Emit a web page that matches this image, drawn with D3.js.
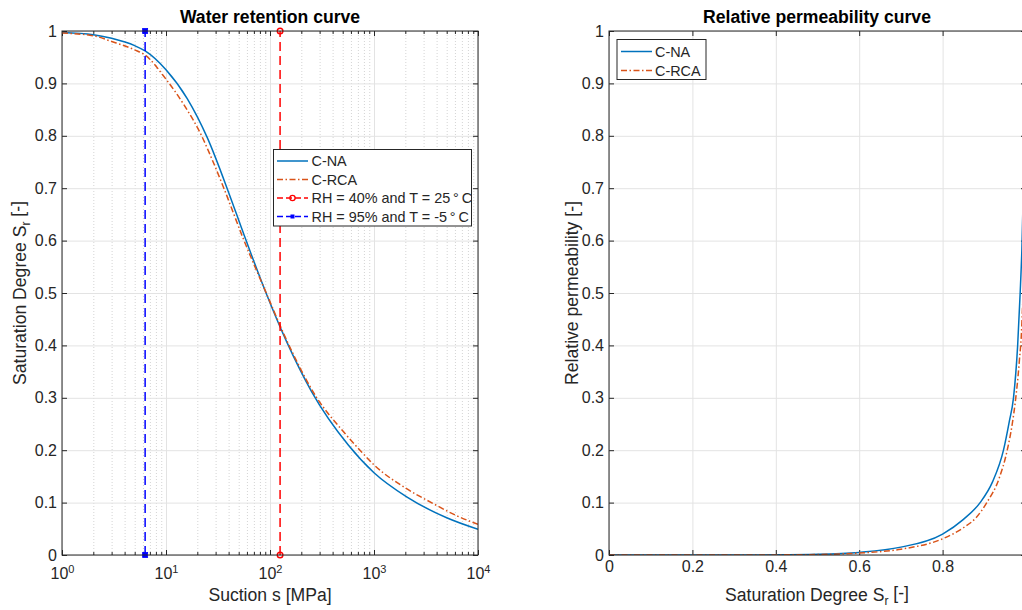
<!DOCTYPE html>
<html>
<head>
<meta charset="utf-8">
<script src="https://cdn.jsdelivr.net/npm/d3@7"></script>
<style>
  body { margin: 0; background: #fff; }
  text { font-family: "Liberation Sans", Arial, sans-serif; fill: #262626; }
</style>
</head>
<body>
<div id="chart"></div>
<script>
// water retention data (suction in MPa, saturation degree)
var suctionNA = [1, 2, 3, 5, 6.3, 10, 16, 25, 40, 56, 92, 143, 251, 566, 1000, 2061, 5000, 10000];
var satNA = [0.997, 0.993, 0.986, 0.972, 0.962, 0.926, 0.871, 0.796, 0.692, 0.612, 0.499, 0.409, 0.312, 0.21, 0.157, 0.111, 0.071, 0.049];
var suctionRCA = [1, 2, 3, 5, 6.3, 10, 15, 22, 28, 36, 55, 92, 146, 282, 500, 733, 1000, 2000, 3720, 6000, 10000];
var satRCA = [0.996, 0.991, 0.980, 0.964, 0.954, 0.908, 0.858, 0.80, 0.753, 0.70, 0.605, 0.50, 0.408, 0.30, 0.237, 0.20, 0.172, 0.128, 0.098, 0.0765, 0.0585];

// suction for the two climate conditions
var sRH40 = 125;
var sRH95 = 6.3;

// relative permeability data (saturation degree, kr)
var srNA = [0, 0.1, 0.2, 0.3, 0.4, 0.5, 0.6, 0.7, 0.8, 0.85, 0.89, 0.92, 0.946, 0.96, 0.97, 0.98, 0.986, 0.99, 0.995, 1];
var krNA = [0, 0, 0.00001, 0.00005, 0.0003, 0.0013, 0.005, 0.015, 0.04, 0.068, 0.1, 0.14, 0.2, 0.255, 0.3, 0.4, 0.5, 0.58, 0.74, 1];
var srRCA = [0, 0.1, 0.2, 0.3, 0.4, 0.5, 0.6, 0.7, 0.8, 0.85, 0.88, 0.906, 0.935, 0.955, 0.967, 0.974, 0.984, 0.99, 0.995, 1];
var krRCA = [0, 0, 0, 0.00003, 0.0002, 0.0009, 0.0038, 0.011, 0.031, 0.052, 0.071, 0.1, 0.145, 0.2, 0.25, 0.29, 0.37, 0.44, 0.58, 1];

// ticks
var decades = [1, 10, 100, 1000, 10000];
var decadeExp = ["0", "1", "2", "3", "4"];
var yTicks = [0, 0.1, 0.2, 0.3, 0.4, 0.5, 0.6, 0.7, 0.8, 0.9, 1];
var yTickLabels = ["0", "0.1", "0.2", "0.3", "0.4", "0.5", "0.6", "0.7", "0.8", "0.9", "1"];
var xTicksR = [0, 0.2, 0.4, 0.6, 0.8, 1];
var xTickLabelsR = ["0", "0.2", "0.4", "0.6", "0.8", ""];

var blue = "#0072BD", orange = "#D95319";
var axisColor = "#262626", gridColor = "#e3e3e3";

//general setup
var width = 1022, height = 610;
var plotTop = 31, plotBottom = 555;

var svg = d3.select("#chart").append("svg")
    .attr("width", width)
    .attr("height", height);

var minor = [];
decades.slice(0, 4).forEach(function (d) {
    for (var k = 2; k < 10; k++) minor.push(d * k);
});

function styleAxis(g) {
    g.select(".domain").remove();
    g.selectAll(".tick line").attr("stroke", axisColor);
}

function gridX(scale, values, dotted) {
    var g = svg.append("g")
        .attr("transform", "translate(0," + plotBottom + ")")
        .call(d3.axisBottom(scale).tickValues(values).tickSize(-(plotBottom - plotTop)).tickFormat(""));
    g.select(".domain").remove();
    g.selectAll(".tick line")
        .attr("stroke", dotted ? "#d4d4d4" : gridColor)
        .attr("stroke-dasharray", dotted ? "1,2" : null);
}

function gridY(scale, x0, x1) {
    var g = svg.append("g")
        .attr("transform", "translate(" + x0 + ",0)")
        .call(d3.axisLeft(scale).tickValues(yTicks).tickSize(-(x1 - x0)).tickFormat(""));
    g.select(".domain").remove();
    g.selectAll(".tick line").attr("stroke", gridColor);
}

function frame(x0, x1) {
    svg.append("rect")
        .attr("x", x0).attr("y", plotTop)
        .attr("width", x1 - x0).attr("height", plotBottom - plotTop)
        .attr("fill", "none")
        .attr("stroke", axisColor)
        .attr("stroke-width", 1);
}

function yAxes(scale, x0, x1) {
    var g = svg.append("g")
        .attr("transform", "translate(" + x0 + ",0)")
        .call(d3.axisLeft(scale).tickValues(yTicks).tickSize(-5).tickPadding(5)
            .tickFormat(function (d, i) { return yTickLabels[i]; }));
    styleAxis(g);
    g.selectAll("text").attr("font-size", "16px").attr("font-family", null).attr("fill", axisColor);
    var r = svg.append("g")
        .attr("transform", "translate(" + x1 + ",0)")
        .call(d3.axisRight(scale).tickValues(yTicks).tickSize(-5).tickFormat(""));
    styleAxis(r);
}

/* ---------- left panel: water retention curve ---------- */
var xL = d3.scaleLog().domain([1, 10000]).range([62, 478]);
var yL = d3.scaleLinear().domain([0, 1]).range([plotBottom, plotTop]);

gridX(xL, minor, true);
gridX(xL, decades, false);
gridY(yL, 62, 478);

// bottom axis with power labels
var gxL = svg.append("g")
    .attr("transform", "translate(0," + plotBottom + ")")
    .call(d3.axisBottom(xL).tickValues(decades).tickSize(-5).tickPadding(13));
styleAxis(gxL);
gxL.selectAll(".tick text")
    .attr("font-size", "16px").attr("font-family", null).attr("fill", axisColor)
    .text(null)
    .each(function (d, i) {
        var t = d3.select(this);
        t.append("tspan").text("10");
        t.append("tspan").attr("dy", "-0.55em").attr("font-size", "11px").text(decadeExp[i]);
    });
styleAxis(svg.append("g")
    .attr("transform", "translate(0," + plotBottom + ")")
    .call(d3.axisBottom(xL).tickValues(minor).tickSize(-3).tickFormat("")));
styleAxis(svg.append("g")
    .attr("transform", "translate(0," + plotTop + ")")
    .call(d3.axisTop(xL).tickValues(decades).tickSize(-5).tickFormat("")));
styleAxis(svg.append("g")
    .attr("transform", "translate(0," + plotTop + ")")
    .call(d3.axisTop(xL).tickValues(minor).tickSize(-3).tickFormat("")));
yAxes(yL, 62, 478);

svg.append("defs").append("clipPath").attr("id", "clipL")
    .append("rect").attr("x", 62).attr("y", plotTop - 6).attr("width", 416).attr("height", plotBottom - plotTop + 12);

var lineL = d3.line()
    .x(function (d) { return xL(d[0]); })
    .y(function (d) { return yL(d[1]); })
    .curve(d3.curveMonotoneX);

var plotL = svg.append("g").attr("clip-path", "url(#clipL)");

plotL.append("path")
    .attr("d", lineL(d3.zip(suctionNA, satNA)))
    .attr("stroke", blue).attr("stroke-width", 1.5).attr("fill", "none");
plotL.append("path")
    .attr("d", lineL(d3.zip(suctionRCA, satRCA)))
    .attr("stroke", orange).attr("stroke-width", 1.5).attr("fill", "none")
    .attr("stroke-dasharray", "6,2.5,1.5,2.5");

// RH 40% (red) and RH 95% (blue) verticals
plotL.append("path")
    .attr("d", d3.line()([[xL(sRH40), yL(0)], [xL(sRH40), yL(1)]]))
    .attr("stroke", "#ff0000").attr("stroke-width", 1.5).attr("fill", "none")
    .attr("stroke-dasharray", "9,5");
plotL.selectAll(".mk40").data([0, 1]).enter().append("circle")
    .attr("cx", xL(sRH40)).attr("cy", function (d) { return yL(d); })
    .attr("r", 2.8).attr("fill", "none").attr("stroke", "#ff0000").attr("stroke-width", 1.4);
plotL.append("path")
    .attr("d", d3.line()([[xL(sRH95), yL(0)], [xL(sRH95), yL(1)]]))
    .attr("stroke", "#0000ff").attr("stroke-width", 1.5).attr("fill", "none")
    .attr("stroke-dasharray", "9,5");
plotL.selectAll(".mk95").data([0, 1]).enter().append("rect")
    .attr("x", xL(sRH95) - 2.5).attr("y", function (d) { return yL(d) - 2.5; })
    .attr("width", 5).attr("height", 5)
    .attr("fill", "#0000ff").attr("stroke", "#0000ff").attr("stroke-width", 0.8);

frame(62, 478);

// legend
var legL = svg.append("g");
legL.append("rect").attr("x", 273.5).attr("y", 149.5).attr("width", 198).attr("height", 76.5)
    .attr("fill", "#fff").attr("stroke", axisColor).attr("stroke-width", 1);
var legItems = [
    { label: "C-NA", color: blue, dash: null },
    { label: "C-RCA", color: orange, dash: "6,2.5,1.5,2.5" },
    { label: "RH = 40% and T = 25\u2009\u00B0\u2009C", color: "#ff0000", dash: "6,3", mark: "o" },
    { label: "RH = 95% and T = -5\u2009\u00B0\u2009C", color: "#0000ff", dash: "6,3", mark: "s" }
];
legItems.forEach(function (d, i) {
    var y = 161 + i * 18.5;
    legL.append("line").attr("x1", 277).attr("x2", 308).attr("y1", y).attr("y2", y)
        .attr("stroke", d.color).attr("stroke-width", 1.5).attr("stroke-dasharray", d.dash);
    if (d.mark === "o") {
        legL.append("circle").attr("cx", 292.5).attr("cy", y).attr("r", 2.6)
            .attr("fill", "none").attr("stroke", d.color).attr("stroke-width", 1.3);
    } else if (d.mark === "s") {
        legL.append("rect").attr("x", 290.5).attr("y", y - 2).attr("width", 4).attr("height", 4)
            .attr("fill", d.color);
    }
    legL.append("text").attr("x", 311.5).attr("y", y).attr("dy", "0.35em")
        .attr("font-size", "14.4px").text(d.label);
});

svg.append("text").attr("x", 270).attr("y", 22.7).attr("text-anchor", "middle")
    .attr("font-size", "17.6px").attr("font-weight", "bold").style("fill", "#000")
    .text("Water retention curve");
svg.append("text").attr("x", 270).attr("y", 600.5).attr("text-anchor", "middle")
    .attr("font-size", "17.6px").text("Suction s [MPa]");
var ylabL = svg.append("text")
    .attr("transform", "translate(26," + ((plotTop + plotBottom) / 2) + ") rotate(-90)")
    .attr("text-anchor", "middle").attr("font-size", "17.6px");
ylabL.append("tspan").text("Saturation Degree S");
ylabL.append("tspan").attr("font-size", "12px").attr("dy", "0.35em").text("r");
ylabL.append("tspan").attr("dy", "-0.35em").text(" [-]");

/* ---------- right panel: relative permeability curve ---------- */
var xR = d3.scaleLinear().domain([0, 1]).range([609, 1026]);
var yR = d3.scaleLinear().domain([0, 1]).range([plotBottom, plotTop]);

gridX(xR, xTicksR, false);
gridY(yR, 609, 1026);

var gxR = svg.append("g")
    .attr("transform", "translate(0," + plotBottom + ")")
    .call(d3.axisBottom(xR).tickValues(xTicksR).tickSize(-5).tickPadding(6)
        .tickFormat(function (d, i) { return xTickLabelsR[i]; }));
styleAxis(gxR);
gxR.selectAll("text").attr("font-size", "16px").attr("font-family", null).attr("fill", axisColor);
styleAxis(svg.append("g")
    .attr("transform", "translate(0," + plotTop + ")")
    .call(d3.axisTop(xR).tickValues(xTicksR).tickSize(-5).tickFormat("")));
yAxes(yR, 609, 1026);

svg.append("defs").append("clipPath").attr("id", "clipR")
    .append("rect").attr("x", 609).attr("y", plotTop).attr("width", 417).attr("height", plotBottom - plotTop);

var lineR = d3.line()
    .x(function (d) { return xR(d[0]); })
    .y(function (d) { return yR(d[1]); })
    .curve(d3.curveMonotoneX);

var plotR = svg.append("g").attr("clip-path", "url(#clipR)");
plotR.append("path")
    .attr("d", lineR(d3.zip(srNA, krNA)))
    .attr("stroke", blue).attr("stroke-width", 1.5).attr("fill", "none");
plotR.append("path")
    .attr("d", lineR(d3.zip(srRCA, krRCA)))
    .attr("stroke", orange).attr("stroke-width", 1.5).attr("fill", "none")
    .attr("stroke-dasharray", "6,2.5,1.5,2.5");

frame(609, 1026);

var legR = svg.append("g");
legR.append("rect").attr("x", 617).attr("y", 39.5).attr("width", 89).attr("height", 40)
    .attr("fill", "#fff").attr("stroke", axisColor).attr("stroke-width", 1);
legItems.slice(0, 2).forEach(function (d, i) {
    var y = 51.5 + i * 19;
    legR.append("line").attr("x1", 621).attr("x2", 652).attr("y1", y).attr("y2", y)
        .attr("stroke", d.color).attr("stroke-width", 1.5).attr("stroke-dasharray", d.dash);
    legR.append("text").attr("x", 655).attr("y", y).attr("dy", "0.35em")
        .attr("font-size", "14.4px").text(d.label);
});

svg.append("text").attr("x", 817).attr("y", 22.7).attr("text-anchor", "middle")
    .attr("font-size", "17.6px").attr("font-weight", "bold").style("fill", "#000")
    .text("Relative permeability curve");
var xlabR = svg.append("text").attr("x", 817).attr("y", 600.5).attr("text-anchor", "middle")
    .attr("font-size", "17.6px");
xlabR.append("tspan").text("Saturation Degree S");
xlabR.append("tspan").attr("font-size", "12px").attr("dy", "0.35em").text("r");
xlabR.append("tspan").attr("dy", "-0.35em").text(" [-]");
svg.append("text")
    .attr("transform", "translate(578," + ((plotTop + plotBottom) / 2) + ") rotate(-90)")
    .attr("text-anchor", "middle").attr("font-size", "17.6px")
    .text("Relative permeability [-]");
</script>
</body>
</html>
